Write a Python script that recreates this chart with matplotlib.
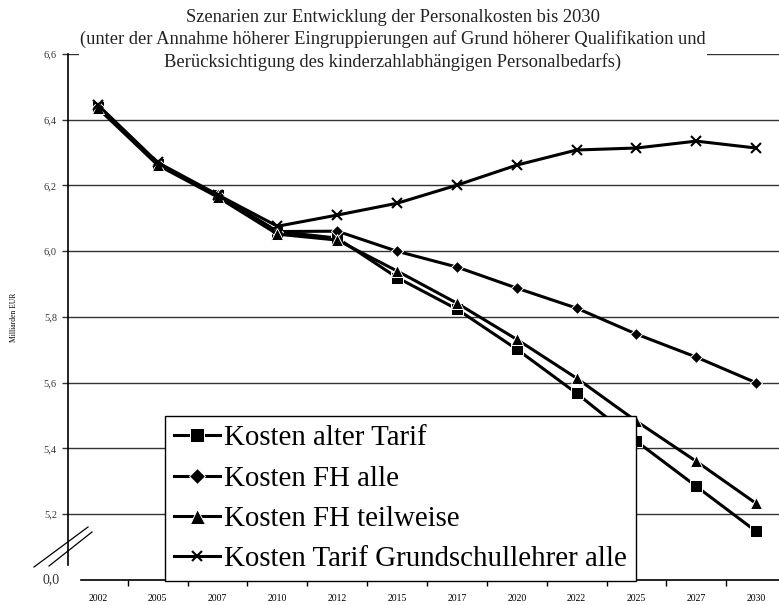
import matplotlib
matplotlib.use("Agg")
import matplotlib.pyplot as plt
from matplotlib.lines import Line2D

plt.rcParams['font.family'] = ['Liberation Serif', 'DejaVu Serif']

# Werte in Mrd. EUR
years = ['2002', '2005', '2007', '2010', '2012', '2015', '2017', '2020', '2022', '2025', '2027', '2030']
alter_tarif = [6.44, 6.265, 6.17, 6.06, 6.04, 5.92, 5.824, 5.702, 5.568, 5.422, 5.285, 5.148]
fh_alle = [6.44, 6.265, 6.17, 6.06, 6.061, 6.0, 5.952, 5.888, 5.827, 5.748, 5.678, 5.6]
fh_teilweise = [6.435, 6.262, 6.165, 6.052, 6.034, 5.94, 5.842, 5.732, 5.614, 5.483, 5.361, 5.233]
grundschul = [6.445, 6.27, 6.172, 6.076, 6.11, 6.146, 6.201, 6.262, 6.308, 6.314, 6.335, 6.314]
yticks = [5.2, 5.4, 5.6, 5.8, 6.0, 6.2, 6.4, 6.6]
ylabels = ['5,2', '5,4', '5,6', '5,8', '6,0', '6,2', '6,4', '6,6']

W, H = 779, 605
fig = plt.figure(figsize=(W/100, H/100), dpi=100)
ax = fig.add_axes([68/W, 1-580/H, 718/W, 526/H])

x = range(len(years))
kw = dict(color='black', lw=2.2, markeredgecolor='white', markeredgewidth=0.7)
ax.plot(x, alter_tarif, marker='s', ms=8.5, label='Kosten alter Tarif', **kw)
ax.plot(x, fh_alle, marker='D', ms=6.5, label='Kosten FH alle', **kw)
ax.plot(x, fh_teilweise, marker='^', ms=9, label='Kosten FH teilweise', **kw)
ax.plot(x, grundschul, marker='x', ms=6.5, color='black', lw=2.2, mew=1.5,
        label='Kosten Tarif Grundschullehrer alle')

ax.set_xlim(-0.5, 11.5)
ax.set_ylim(5.0, 6.6)
for v in yticks:
    ax.axhline(v, color='#333333', lw=1, zorder=0)

ax.set_yticks(yticks)
ax.set_yticklabels(ylabels)
ax.tick_params(axis='y', length=4, width=1, pad=4, labelsize=7.5, colors='#333333')
ax.set_xticks(list(x))
ax.set_xticklabels(years)
ax.set_xticks([i + 0.5 for i in x], minor=True)
ax.tick_params(axis='x', which='major', length=0, pad=10.3, labelsize=7)
ax.tick_params(axis='x', which='minor', length=4, width=1)
ax.text(-0.011, 5.0, '0,0', transform=ax.get_yaxis_transform(), ha='right', va='center',
        fontsize=10, color='#333333')

ax.set_ylabel('Milliarden EUR', fontsize=5.5)
ax.yaxis.set_label_coords(-0.07, 0.5)

for s in ax.spines.values():
    s.set_visible(False)
ax.add_line(Line2D([0, 0], [15/526, 1], transform=ax.transAxes, color='black', lw=1.2, clip_on=False))
ax.add_line(Line2D([13/718, 1], [0, 0], transform=ax.transAxes, color='black', lw=1.2, clip_on=False))

# Achsenbruch
for (x0, y0, x1, y1) in [(34, 567, 88, 527), (49, 566, 92, 532)]:
    fig.add_artist(Line2D([x0/W, x1/W], [1-y0/H, 1-y1/H], color='black', lw=0.9))

leg = ax.legend(loc='lower left', bbox_to_anchor=(97/718, -0.002), fontsize=20.8, frameon=True,
                fancybox=False, edgecolor='black', framealpha=1, handlelength=1.6,
                handletextpad=0.15, labelspacing=0.49, borderpad=0.3, borderaxespad=0,
                markerscale=1.2)
leg.get_frame().set_linewidth(1)
leg.set_zorder(5)

fig.text(393/W, 1-40/H,
         'Szenarien zur Entwicklung der Personalkosten bis 2030\n'
         '(unter der Annahme höherer Eingruppierungen auf Grund höherer Qualifikation und\n'
         'Berücksichtigung des kinderzahlabhängigen Personalbedarfs)',
         ha='center', va='center', fontsize=13.3, linespacing=1.36, color='#222222',
         bbox=dict(facecolor='white', edgecolor='none', pad=1))

fig.savefig('out.png', dpi=100)
